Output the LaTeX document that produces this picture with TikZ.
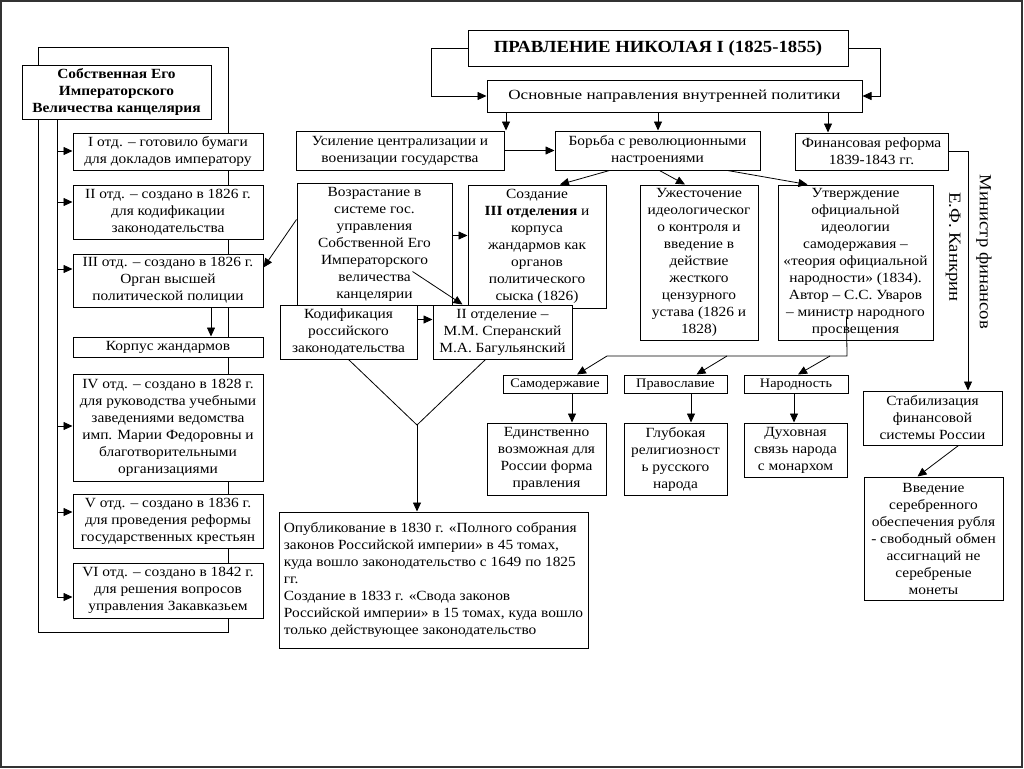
\documentclass[tikz,border=0pt]{standalone}
\usepackage{fontspec}
\setmainfont[FakeStretch=1.1]{Liberation Serif}
\newfontfamily\widefont[FakeStretch=1.22]{Liberation Serif}
\usetikzlibrary{arrows.meta,calc}
\newcommand\fs{\fontsize{14}{17}\selectfont}
\newcommand\bx[7][]{%
\pgfmathsetmacro\bw{#5-#3}%
\pgfmathsetmacro\bh{#6-#4}%
\pgfmathsetmacro\bxc{(#3+#5)/2}%
\pgfmathsetmacro\byc{(#4+#6)/2}%
\node[box,minimum width=\bw pt,minimum height=\bh pt,#1] (#2) at (\bxc,\byc) {#7};}
\begin{document}
\begin{tikzpicture}[x=1pt,y=-1pt,
  box/.style={draw,line width=1pt,fill=white,inner sep=1pt,align=center,font=\fs},
  small/.style={font=\fontsize{13}{15}\selectfont,text height=8.5pt,text depth=1.5pt},
  oneline/.style={text height=9.5pt,text depth=2pt},
  arr/.style={-{Triangle[length=9pt,width=8pt]},line width=0.8pt},
  ln/.style={line width=0.8pt},
  vtext/.style={rotate=-90,font=\fontsize{17}{20}\selectfont,inner sep=0pt}]
\useasboundingbox (0,0) rectangle (1024,768);
\fill[white] (0,0) rectangle (1024,768);
\draw[line width=1.5pt,black!80] (1,1) rectangle (1022,767);
% left frame
\coordinate (frTL) at (38,47);
\coordinate (frBR) at (228,632);
\draw[ln] (frTL) rectangle (frBR);
% left column
\bx[font=\fs\bfseries]{sob}{22}{65}{211}{119}{Собственная Его\\Императорского\\Величества канцелярия}
\coordinate (sp0) at (57,119);
\coordinate (sp1) at (57,597);
\draw[ln] (sp0) -- (sp1);
\bx{b1}{73}{133}{263}{170}{I отд. – готовило бумаги\\для докладов императору}
\bx{b2}{73}{185}{263}{239}{II отд. – создано в 1826 г.\\для кодификации\\законодательства}
\bx{b3}{73}{254}{263}{307}{III отд. – создано в 1826 г.\\Орган высшей\\политической полиции}
\bx[oneline]{korp}{73}{337}{263}{357}{Корпус жандармов}
\bx{b4}{73}{374}{263}{481}{IV отд. – создано в 1828 г.\\для руководства учебными\\заведениями ведомства\\имп. Марии Федоровны и\\благотворительными\\организациями}
\bx{b5}{73}{494}{263}{548}{V отд. – создано в 1836 г.\\для проведения реформы\\государственных крестьян}
\bx{b6}{73}{563}{263}{618}{VI отд. – создано в 1842 г.\\для решения вопросов\\управления Закавказьем}
\coordinate (a1) at (57,151);
\coordinate (a2) at (57,202);
\coordinate (a3) at (57,269);
\coordinate (a4) at (57,426);
\coordinate (a5) at (57,512);
\coordinate (a6) at (57,597);
\draw[arr] (a1) -- (a1 -| b1.west);
\draw[arr] (a2) -- (a2 -| b2.west);
\draw[arr] (a3) -- (a3 -| b3.west);
\draw[arr] (a4) -- (a4 -| b4.west);
\draw[arr] (a5) -- (a5 -| b5.west);
\draw[arr] (a6) -- (a6 -| b6.west);
\coordinate (k0) at (211,0);
\draw[arr] (k0 |- b3.south) -- (k0 |- korp.north);
% top
\bx[font=\fontsize{17}{20}\selectfont\bfseries]{title}{468}{31}{848}{66}{ПРАВЛЕНИЕ НИКОЛАЯ I (1825-1855)}
\bx[font=\fs\widefont]{osn}{487}{80}{862}{112}{Основные направления внутренней политики}
\draw[arr] (title.west) -- ++(-36,0) |- (osn.west);
\draw[arr] (title.east) -- ++(32,0) |- (osn.east);
\bx{us}{296}{131}{504}{170}{Усиление централизации и\\военизации государства}
\bx{bor}{555}{131}{760}{170}{Борьба с революционными\\настроениями}
\bx{fin}{795}{133}{948}{170}{Финансовая реформа\\1839-1843 гг.}
\coordinate (o1) at (506,0);
\coordinate (o2) at (658,0);
\coordinate (o3) at (828,0);
\draw[arr] (o1 |- osn.south) -- (o1 |- us.north);
\draw[arr] (o2 |- osn.south) -- (o2 |- bor.north);
\draw[arr] (o3 |- osn.south) -- (o3 |- fin.north);
\draw[arr] (us.east) -- (bor.west);
% middle
\bx{voz}{297}{183}{452}{305}{Возрастание в\\системе гос.\\управления\\Собственной Его\\Императорского\\величества\\канцелярии}
\bx{soz}{468}{185}{606}{308}{Создание\\\textbf{III отделения} и\\корпуса\\жандармов как\\органов\\политического\\сыска (1826)}
\bx{kod}{280}{305}{417}{359}{Кодификация\\российского\\законодательства}
\bx{iiotd}{433}{305}{572}{359}{II отделение –\\М.М. Сперанский\\М.А. Багульянский}
\bx{uzh}{640}{185}{758}{340}{Ужесточение\\идеологическог\\о контроля и\\введение в\\действие\\жесткого\\цензурного\\устава (1826 и\\1828)}
\bx{utv}{778}{185}{933}{340}{Утверждение\\официальной\\идеологии\\самодержавия –\\«теория официальной\\народности» (1834).\\Автор – С.С. Уваров\\– министр народного\\просвещения}
\draw[arr] ($(voz.north east)+(0,53)$) -- ($(soz.north west)+(0,51)$);
\draw[arr] ($(voz.north west)+(0,37)$) -- ($(b3.north east)+(0,14)$);
\draw[arr] ($(voz.north west)+(116,89)$) -- ($(iiotd.north west)+(30,0)$);
\draw[arr] ($(kod.north east)+(0,15)$) -- ($(iiotd.north west)+(0,15)$);
\draw[arr] ($(bor.south)+(-48,0)$) -- ($(soz.north)+(23,0)$);
\draw[arr] ($(bor.south)+(2,0)$) -- ($(uzh.north)+(-14,0)$);
\draw[arr] ($(bor.south)+(70,0)$) -- ($(utv.north)+(-48,0)$);
% codification funnel
\coordinate (fun) at (417,425);
\draw[ln] (kod.south) -- (fun);
\draw[ln] ($(iiotd.south)+(-17,0)$) -- (fun);
\bx[align=left]{opub}{279}{512}{588}{648}{Опубликование в 1830 г. «Полного собрания\\законов Российской империи» в 45 томах,\\куда вошло законодательство с 1649 по 1825\\гг.\\Создание в 1833 г. «Свода законов\\Российской империи» в 15 томах, куда вошло\\только действующее законодательство}
\draw[arr] (fun) -- (fun |- opub.north);
% triad
\bx[small]{sam}{503}{375}{607}{393}{Самодержавие}
\bx[small]{prav}{624}{375}{727}{393}{Православие}
\bx[small]{nar}{744}{375}{848}{393}{Народность}
\coordinate (hr) at (847,356);
\coordinate (hl) at (607,356);
\draw[ln] ($(utv.north west)+(69,132)$) -- (hr) -- (hl);
\draw[arr] (hl) -- ($(sam.north)+(22,0)$);
\draw[arr] (727,356) -- ($(prav.north)+(21,0)$);
\draw[arr] (830,356) -- ($(nar.north)+(2,0)$);
\bx{edin}{487}{423}{606}{495}{Единственно\\возможная для\\России форма\\правления}
\bx{glub}{624}{423}{727}{495}{Глубокая\\религиозност\\ь русского\\народа}
\bx{duh}{744}{423}{847}{477}{Духовная\\связь народа\\с монархом}
\coordinate (t1) at (572,0);
\coordinate (t2) at (691,0);
\coordinate (t3) at (794,0);
\draw[arr] (t1 |- sam.south) -- (t1 |- edin.north);
\draw[arr] (t2 |- prav.south) -- (t2 |- glub.north);
\draw[arr] (t3 |- nar.south) -- (t3 |- duh.north);
% finance
\bx{stab}{863}{391}{1002}{445}{Стабилизация\\финансовой\\системы России}
\bx{vved}{864}{477}{1003}{600}{Введение\\серебренного\\обеспечения рубля\\- свободный обмен\\ассигнаций не\\серебреные\\монеты}
\coordinate (fturn) at (968,0);
\draw[arr] (fin.east) -| (fturn |- stab.north);
\draw[arr] ($(stab.south)+(26,0)$) -- ($(vved.north)+(-16,0)$);
\node[vtext] (minfin) at (984,252) {Министр финансов};
\node[vtext] (kankrin) at (953,247) {Е.Ф. Канкрин};
\end{tikzpicture}
\end{document}
